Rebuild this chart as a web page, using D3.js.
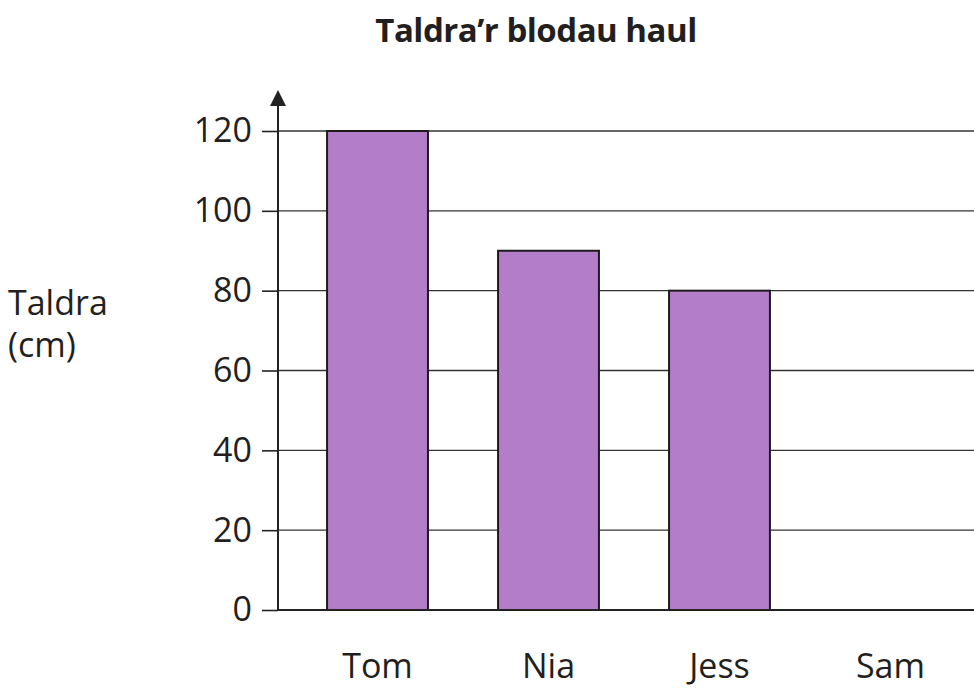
<!DOCTYPE html>
<html><head><meta charset="utf-8">
<script src="https://cdn.jsdelivr.net/npm/d3@7"></script>
<style>body{margin:0;background:#fff}svg{display:block}text{font-family:"Open Sans","Noto Sans",sans-serif;fill:#231f20}</style>
</head><body><svg id="c" width="974" height="688"></svg>
<script>
const categories = ["Tom", "Nia", "Jess", "Sam"];
const heights = [120, 90, 80, 0];
const yTicks = [0, 20, 40, 60, 80, 100, 120];
const title = "Taldra’r blodau haul";
const yLabel = ["Taldra", "(cm)"];

const svg = d3.select("#c");
const x0 = 278, yBase = 610, yTop = 131;
const x = d3.scaleBand().domain(categories).range([x0, 990]).paddingInner(0.41).paddingOuter(0.287);
const y = d3.scaleLinear().domain([0, 120]).range([yBase, yTop]);

svg.append("text").attr("x", 536).attr("y", 42).attr("text-anchor", "middle")
  .style("font-weight", 700).style("font-size", "33px").style("letter-spacing", "-0.5px").text(title);

// gridlines
svg.append("g").selectAll("line").data(yTicks.filter(d => d > 0)).join("line")
  .attr("x1", x0).attr("x2", 974).attr("y1", d => y(d)).attr("y2", d => y(d))
  .attr("stroke", "#333").attr("stroke-width", 1.4);

// y axis
const ax = svg.append("g").attr("transform", `translate(${x0},0)`)
  .call(d3.axisLeft(y).tickValues(yTicks).tickSize(16).tickPadding(10));
ax.select(".domain").remove();
ax.selectAll(".tick line").attr("stroke", "#222").attr("stroke-width", 1.6);
ax.selectAll(".tick text").style("font-size", "34px").attr("fill", "#231f20")
  .style("font-family", "'Open Sans','Noto Sans',sans-serif");

// bars
svg.append("g").selectAll("rect").data(categories.map((c, i) => ({c, v: heights[i]})).filter(d => d.v > 0)).join("rect")
  .attr("x", d => x(d.c)).attr("width", x.bandwidth())
  .attr("y", d => y(d.v)).attr("height", d => yBase - y(d.v))
  .attr("fill", "#b47dc9").attr("stroke", "#1e1a1c").attr("stroke-width", 2);

// axis lines
svg.append("line").attr("x1", x0).attr("x2", x0).attr("y1", yBase).attr("y2", 100)
  .attr("stroke", "#222").attr("stroke-width", 2);
svg.append("path").attr("d", `M${x0 - 8},${106} L${x0},${90} L${x0 + 8},${106} Z`).attr("fill", "#222");
svg.append("line").attr("x1", x0).attr("x2", 974).attr("y1", yBase).attr("y2", yBase)
  .attr("stroke", "#222").attr("stroke-width", 2);

// category labels
svg.append("g").selectAll("text").data(categories).join("text")
  .attr("x", d => x(d) + x.bandwidth() / 2).attr("y", 678).attr("text-anchor", "middle")
  .style("font-size", "34px").text(d => d);

// y label
svg.append("g").selectAll("text").data(yLabel).join("text")
  .attr("x", 8).attr("y", (d, i) => 315 + i * 42).style("font-size", "34px").text(d => d);
</script></body></html>
